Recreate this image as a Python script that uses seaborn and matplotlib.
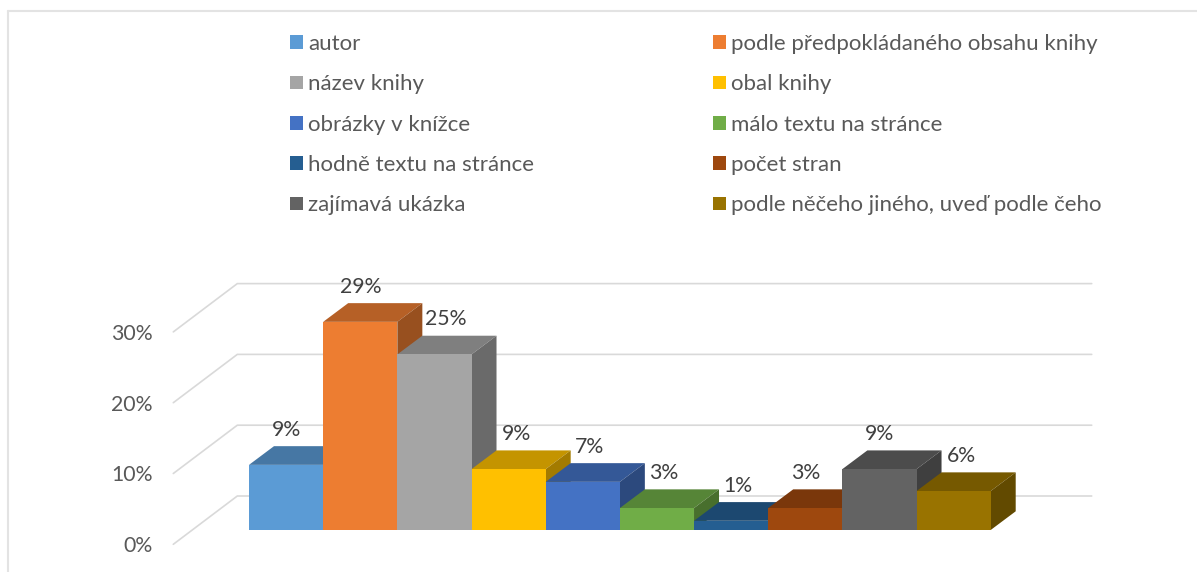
"""Excel-style 3D column chart: how children pick a book."""

import matplotlib

matplotlib.use("Agg")
import matplotlib.pyplot as plt
import numpy as np
import pandas as pd
import seaborn as sns
from matplotlib.colors import to_rgb
from matplotlib.lines import Line2D
from matplotlib.patches import Polygon

CATEGORIES = [
    "autor",
    "podle předpokládaného obsahu knihy",
    "název knihy",
    "obal knihy",
    "obrázky v knížce",
    "málo textu na stránce",
    "hodně textu na stránce",
    "počet stran",
    "zajímavá ukázka",
    "podle něčeho jiného, uveď podle čeho",
]
VALUES = [9.2, 29.4, 24.8, 8.6, 6.8, 3.1, 1.3, 3.1, 8.6, 5.5]
VALUE_LABELS = ["9%", "29%", "25%", "9%", "7%", "3%", "1%", "3%", "9%", "6%"]
COLOURS = [
    "#5B9BD5", "#ED7D31", "#A5A5A5", "#FFC000", "#4472C4",
    "#70AD47", "#255E91", "#9E480E", "#636363", "#997300",
]
TICKS = [0, 10, 20, 30]
TICK_LABELS = ["0%", "10%", "20%", "30%"]

# Layout of the fake 3D box, all in output pixels
W, H = 1197, 572
AX_LEFT = 156
BAR_LEFT = 249
BAR_W = 74.17
BASE_Y = 530
PX_PER_PCT = 7.08
DEPTH = (25, 18.7)
FLOOR_FRONT = (173.3, 544.3)
FLOOR_BACK = (237.3, 496)
WALL_RIGHT = 1091.7
LABEL_DX = [0, 0, 11.5, 7.5, 7, 7, 7, 0, 0, 7.5]
LABEL_DY = 35

GRID = "#d9d9d9"
LABEL_SIZE = 15.3
LEGEND_SIZE = 16


def shade(colour: str, k: float) -> tuple:
    return tuple(c * k for c in to_rgb(colour))


def main() -> None:
    sns.set_style("white")
    plt.rcParams["font.family"] = ["Lato", "DejaVu Sans"]

    df = pd.DataFrame({"kategorie": CATEGORIES, "podil": VALUES})

    fig = plt.figure(figsize=(W / 100, H / 100), dpi=100)
    ax = fig.add_axes([AX_LEFT / W, 0, 1 - AX_LEFT / W, 1])
    sns.barplot(
        data=df,
        x="kategorie",
        y="podil",
        hue="kategorie",
        order=CATEGORIES,
        hue_order=CATEGORIES,
        palette=COLOURS,
        dodge=False,
        width=1,
        linewidth=0,
        saturation=1,
        ax=ax,
    )

    ax.set_xlim((AX_LEFT - BAR_LEFT) / BAR_W - 0.5, (W - BAR_LEFT) / BAR_W - 0.5)
    ax.set_ylim((BASE_Y - H) / PX_PER_PCT, BASE_Y / PX_PER_PCT)
    ax.set_xticks([])
    ax.set_xlabel("")
    ax.set_ylabel("")
    sns.despine(ax=ax, left=True, bottom=True, right=True, top=True)
    ax.patch.set_alpha(0)

    to_x = lambda px: (px - BAR_LEFT) / BAR_W - 0.5
    front_shift = (BASE_Y - FLOOR_FRONT[1]) / PX_PER_PCT
    back_shift = (BASE_Y - FLOOR_BACK[1]) / PX_PER_PCT

    # Value axis sits on the front edge of the floor
    ax.set_yticks([t + front_shift for t in TICKS], TICK_LABELS)
    ax.tick_params(axis="y", length=0, pad=2.5, labelsize=LABEL_SIZE, labelcolor="#595959")

    # Wall grid: diagonal on the side wall, then straight along the back wall
    for t in TICKS:
        ax.plot(
            [to_x(FLOOR_FRONT[0]), to_x(FLOOR_BACK[0]), to_x(WALL_RIGHT)],
            [t + front_shift, t + back_shift, t + back_shift],
            color=GRID,
            lw=1.2,
            zorder=1,
        )

    # Tops and sides of the columns, painted left to right so neighbours overlap
    dx = DEPTH[0] / BAR_W
    dy = DEPTH[1] / PX_PER_PCT
    bars = [cont[0] for cont in ax.containers]
    for i, (bar, colour) in enumerate(zip(bars, COLOURS)):
        x0, x1, h = bar.get_x(), bar.get_x() + bar.get_width(), bar.get_height()
        top = [(x0, h), (x1, h), (x1 + dx, h + dy), (x0 + dx, h + dy)]
        side = [(x1, 0), (x1 + dx, dy), (x1 + dx, h + dy), (x1, h)]
        z = 10 + 3 * i
        ax.add_patch(Polygon(top, fc=shade(colour, 0.77), lw=0, zorder=z))
        ax.add_patch(Polygon(side, fc=shade(colour, 0.64), lw=0, zorder=z + 1))
        bar.set_zorder(z + 2)
        ax.annotate(
            VALUE_LABELS[i],
            xy=((x0 + x1) / 2, h),
            xytext=(LABEL_DX[i], LABEL_DY),
            textcoords="offset pixels",
            ha="center",
            va="center",
            fontsize=LABEL_SIZE,
            color="#404040",
            zorder=60,
        )

    # Legend is filled row by row in the original, matplotlib fills by column
    order = list(range(0, 10, 2)) + list(range(1, 10, 2))
    px = LEGEND_SIZE * 100 / 72
    fig.legend(
        [bars[i] for i in order],
        [CATEGORIES[i] for i in order],
        ncols=2,
        loc="upper left",
        bbox_to_anchor=(290 / W, 1 - 34 / H),
        bbox_transform=fig.transFigure,
        frameon=False,
        fontsize=LEGEND_SIZE,
        labelcolor="#595959",
        borderpad=0,
        borderaxespad=0,
        handlelength=13 / px,
        handleheight=13 / px,
        handletextpad=5.5 / px,
        columnspacing=178 / px,
        labelspacing=0.915,
    )

    # Thin chart frame, cropped at the right and bottom of the screenshot
    for xs, ys in [((8, W), (11, 11)), ((8, 8), (11, H))]:
        fig.add_artist(
            Line2D(
                np.array(xs) / W,
                1 - np.array(ys) / H,
                transform=fig.transFigure,
                color="#e3e3e3",
                lw=1.5,
            )
        )

    fig.savefig("out.png", dpi=100)
    plt.close(fig)


if __name__ == "__main__":
    main()
